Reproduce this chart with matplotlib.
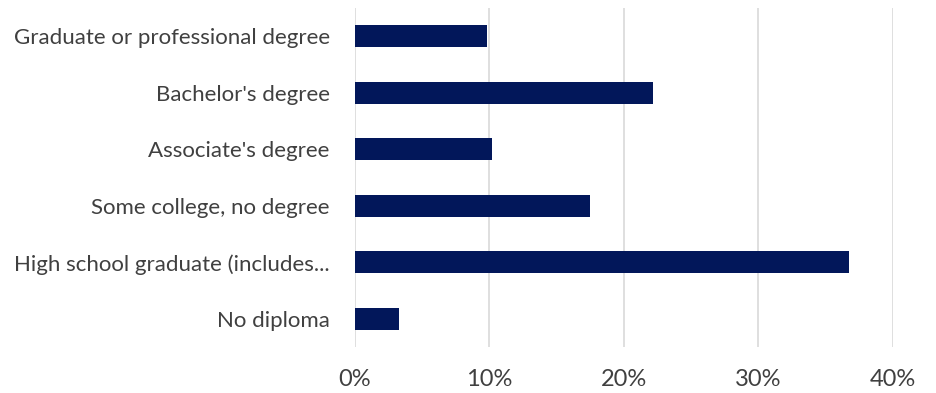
import matplotlib.pyplot as plt
from matplotlib.ticker import PercentFormatter

# education levels, bottom to top
categories = ["No diploma", "High school graduate (includes...", "Some college, no degree",
              "Associate's degree", "Bachelor's degree", "Graduate or professional degree"]
shares = [3.3, 36.7, 17.5, 10.2, 22.2, 9.8]
xticks = [0, 10, 20, 30, 40]

plt.rcParams['font.family'] = ['Lato', 'DejaVu Sans']

fig = plt.figure(figsize=(9.36, 3.93), dpi=100)
ax = fig.add_axes([0.379, 0.117, 0.575, 0.863])

ax.barh(range(len(categories)), shares, height=0.39, color='#02175a', zorder=3)

ax.set_xlim(0, 40)
ax.set_ylim(-0.5, len(categories) - 0.5)
ax.set_xticks(xticks)
ax.xaxis.set_major_formatter(PercentFormatter(decimals=0))
ax.set_yticks(range(len(categories)))
ax.set_yticklabels(categories)

ax.grid(axis='x', color='#d9d9d9', linewidth=1.2, zorder=0)
for s in ax.spines.values():
	s.set_visible(False)
ax.tick_params(axis='both', length=0, colors='#404040')
ax.tick_params(axis='x', pad=16, labelsize=17)
ax.tick_params(axis='y', pad=18, labelsize=16)

fig.savefig('out.png', dpi=100)
